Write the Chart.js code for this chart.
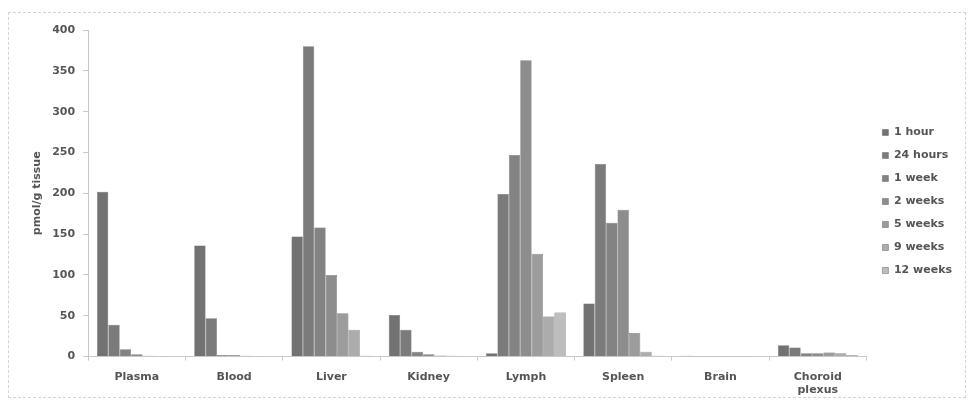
<!DOCTYPE html>
<html>
<head>
<meta charset="utf-8">
<script src="https://cdn.jsdelivr.net/npm/chart.js@4"></script>
<style>
  html, body { margin: 0; padding: 0; background: #fff; }
  #wrap { position: relative; width: 970px; height: 404px; }
  #frame { position: absolute; left: 8px; top: 12px; width: 958px; height: 386px; border: 1px dashed #d4d4d4; box-sizing: border-box; }
  canvas { position: absolute; left: 0; top: 0; }
</style>
</head>
<body>
<div id="wrap">
  <div id="frame"></div>
  <canvas id="tissueChart" width="970" height="404"></canvas>
</div>
<script>
// tissue groups and time points
const tissues = ['Plasma', 'Blood', 'Liver', 'Kidney', 'Lymph', 'Spleen', 'Brain', ['Choroid', 'plexus']];
const yTicks = [0, 50, 100, 150, 200, 250, 300, 350, 400];

// pmol/g tissue
const hour1   = [202, 136, 147, 51, 4, 65, 1, 14];
const hours24 = [39, 47, 380, 33, 199, 236, 0.5, 11];
const week1   = [9, 2, 158, 6, 247, 164, 0.5, 4];
const weeks2  = [3, 2, 100, 3, 363, 180, 0.5, 4];
const weeks5  = [1, 1, 53, 1.5, 126, 29, 0.5, 5];
const weeks9  = [0.5, 0.5, 33, 1, 49, 6, 0.5, 4];
const weeks12 = [0.5, 0.5, 1, 0.5, 54, 1, 0.5, 2];

const series = [
    { label: '1 hour',   data: hour1,   color: '#727272' },
    { label: '24 hours', data: hours24, color: '#7b7b7b' },
    { label: '1 week',   data: week1,   color: '#838383' },
    { label: '2 weeks',  data: weeks2,  color: '#8d8d8d' },
    { label: '5 weeks',  data: weeks5,  color: '#9c9c9c' },
    { label: '9 weeks',  data: weeks9,  color: '#acacac' },
    { label: '12 weeks', data: weeks12, color: '#bdbdbd' }
];

const font = { family: '"DejaVu Sans", Verdana, sans-serif', size: 11, weight: 'bold' };

// nudge the legend a bit right/up like in the original figure
const legendNudge = {
    id: 'legendNudge',
    afterLayout(chart) {
        const lg = chart.legend;
        if (!lg) return;
        lg.left += 4; lg.right += 4;
        lg.top -= 17; lg.bottom -= 17;
    }
};

const ctx = document.getElementById('tissueChart').getContext('2d');
const tissueChart = new Chart(ctx, {
    type: 'bar',
    data: {
        labels: tissues,
        datasets: series.map(s => ({
            label: s.label,
            data: s.data,
            backgroundColor: s.color,
            borderColor: '#666',
            borderWidth: 0.5,
            categoryPercentage: 0.82,
            barPercentage: 1
        }))
    },
    options: {
        responsive: false,
        animation: false,
        layout: { padding: { top: 30, left: 22, right: 12, bottom: -3 } },
        scales: {
            y: {
                min: 0,
                max: 400,
                afterBuildTicks: axis => { axis.ticks = yTicks.map(v => ({ value: v })); },
                grid: { drawOnChartArea: false, tickLength: 5, tickColor: '#c8c8c8' },
                border: { color: '#c8c8c8' },
                ticks: { color: '#555', font: font, padding: 8 },
                title: { display: true, text: 'pmol/g tissue', color: '#555', font: font, padding: { top: 9, bottom: 0 } }
            },
            x: {
                grid: { drawOnChartArea: false, tickLength: 4, tickColor: '#c8c8c8' },
                border: { color: '#c8c8c8' },
                ticks: { color: '#555', font: font, maxRotation: 0, padding: 10 }
            }
        },
        plugins: {
            legend: {
                position: 'right',
                labels: { color: '#555', font: font, boxWidth: 6, boxHeight: 6, padding: 12 }
            },
            tooltip: { enabled: false }
        }
    },
    plugins: [legendNudge]
});
</script>
</body>
</html>
